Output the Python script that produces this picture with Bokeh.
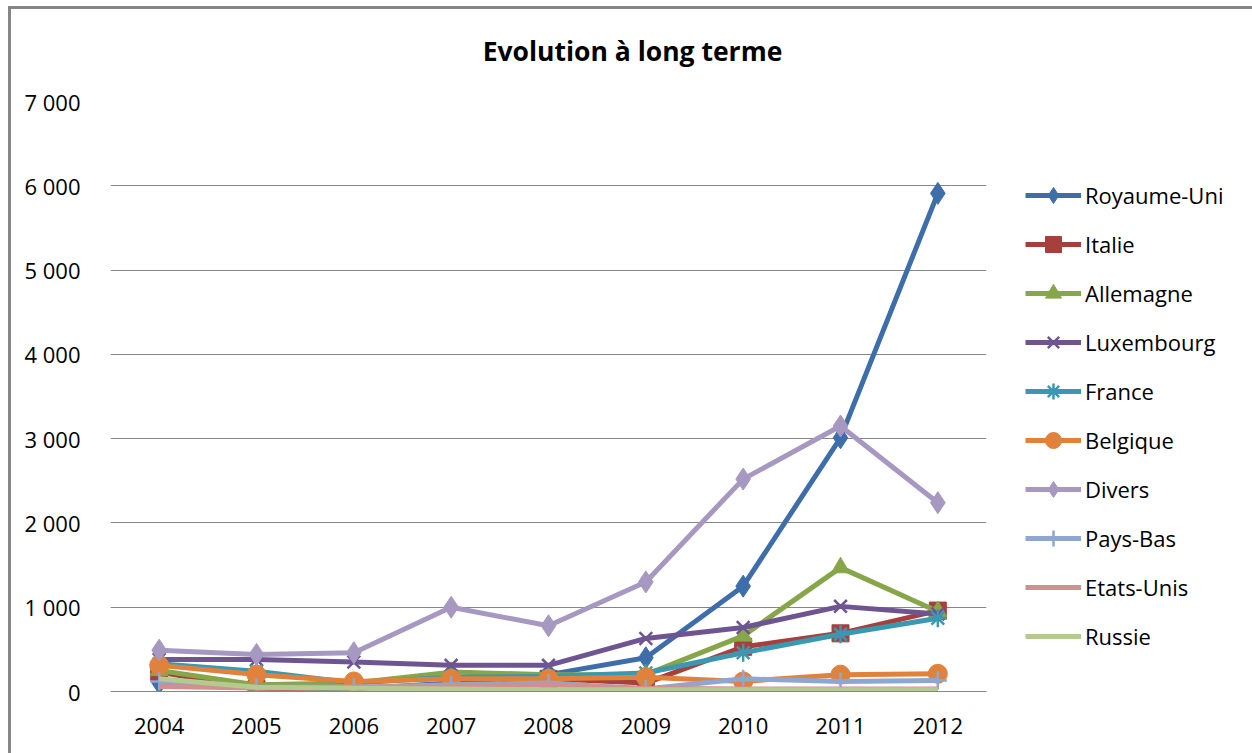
import math
from bokeh.plotting import figure
from bokeh.models import (FixedTicker, Legend, LegendItem, Label, Range1d)
from bokeh.embed import file_html
from bokeh.resources import INLINE

years = [2004, 2005, 2006, 2007, 2008, 2009, 2010, 2011, 2012]
royaume_uni = [100, 50, 30, 100, 200, 400, 1250, 3010, 5910]
italie      = [230, 30, 50, 30, 150, 100, 530, 690, 960]
allemagne   = [250, 80, 100, 230, 200, 200, 660, 1470, 950]
luxembourg  = [380, 380, 350, 310, 310, 630, 760, 1010, 920]
france      = [330, 240, 100, 170, 180, 220, 460, 680, 870]
belgique    = [310, 200, 120, 150, 150, 170, 120, 200, 210]
divers      = [490, 440, 460, 1000, 780, 1300, 2520, 3150, 2240]
pays_bas    = [120, 50, 50, 80, 100, 30, 150, 120, 130]
etats_unis  = [60, 40, 50, 60, 80, 40, 30, 30, 30]
russie      = [150, 50, 40, 30, 20, 20, 20, 20, 20]

series_names = ["Royaume-Uni", "Italie", "Allemagne", "Luxembourg", "France",
                "Belgique", "Divers", "Pays-Bas", "Etats-Unis", "Russie"]
series_values = [royaume_uni, italie, allemagne, luxembourg, france,
                 belgique, divers, pays_bas, etats_unis, russie]
series_colors = ["#3E6EAA", "#A5403D", "#87A64A", "#6E5592", "#3B98B1",
                 "#E0823C", "#A698C0", "#8FA7D0", "#D09090", "#B4CA91"]
series_markers = ["diamond", "square", "triangle", "x", "asterisk",
                  "circle", "diamond", "cross", None, None]

y_ticks = [0, 1000, 2000, 3000, 4000, 5000, 6000, 7000]
y_tick_labels = ["0", "1 000", "2 000", "3 000", "4 000", "5 000", "6 000", "7 000"]
title_text = "Evolution à long terme"

FONT = "Open Sans"
OX, OY = 11, 9            # page offset of the figure content (margin + border)
W, H = 1252 - OX, 753 - OY
left, right_px, top, bottom = 110 - OX, 986 - OX, 101 - OY, 691 - OY

p = figure(width=W, height=H, output_backend="svg", toolbar_location=None,
           x_range=Range1d(2003.5, 2012.5), y_range=Range1d(0, 7000),
           min_border_left=left, min_border_right=W - right_px,
           min_border_top=top, min_border_bottom=H - bottom,
           styles={"margin-left": "8px", "margin-top": "6px",
                   "border-left": "3px solid #868686",
                   "border-top": "3px solid #868686"})
p.frame_width = right_px - left
p.frame_height = bottom - top
p.outline_line_color = None
p.background_fill_color = "white"
p.border_fill_color = "white"

p.xaxis.ticker = FixedTicker(ticks=years)
p.xaxis.major_label_overrides = {y: str(y) for y in years}
p.yaxis.ticker = FixedTicker(ticks=y_ticks)
p.yaxis.major_label_overrides = {t: l for t, l in zip(y_ticks, y_tick_labels)}
for ax in (p.xaxis, p.yaxis):
    ax.major_tick_line_color = None
    ax.minor_tick_line_color = None
    ax.major_label_text_font = FONT
    ax.major_label_text_font_size = "22px"
    ax.major_label_text_color = "#000000"
p.yaxis.axis_line_color = None
p.xaxis.axis_line_color = "#868686"
p.yaxis.major_label_standoff = 24
p.xaxis.major_label_standoff = 20
p.xgrid.grid_line_color = None
p.ygrid.grid_line_color = "#868686"
p.ygrid.grid_line_width = 1

items = []
for name, vals, col, mk in zip(series_names, series_values, series_colors, series_markers):
    rs = [p.line(years, vals, line_color=col, line_width=5)]
    if mk is not None:
        if mk in ("x", "asterisk", "cross"):
            s = p.scatter(years, vals, marker=mk, size=18, line_color=col, line_width=2.5,
                          fill_color=col)
        else:
            sz = {"diamond": 22, "square": 17, "triangle": 18, "circle": 19}[mk]
            s = p.scatter(years, vals, marker=mk, size=sz, line_color=col, fill_color=col)
        rs.append(s)
    items.append(LegendItem(label=name, renderers=rs))

legend = Legend(items=items, location=(39, 35), orientation="vertical",
                glyph_width=56, glyph_height=40, label_height=20, spacing=9,
                label_standoff=4, padding=0, margin=0,
                border_line_color=None, background_fill_alpha=0,
                label_text_font=FONT, label_text_font_size="22px",
                label_text_color="#000000")
p.add_layout(legend, "right")

title = Label(x=632 - 110, y=101 - 50, x_units="screen", y_units="screen",
              text=title_text, text_font=FONT, text_font_size="26.5px",
              text_font_style="bold", text_align="center", text_baseline="middle",
              text_color="#000000")
p.add_layout(title, "above")

open("out.html", "w").write(file_html(p, INLINE))
